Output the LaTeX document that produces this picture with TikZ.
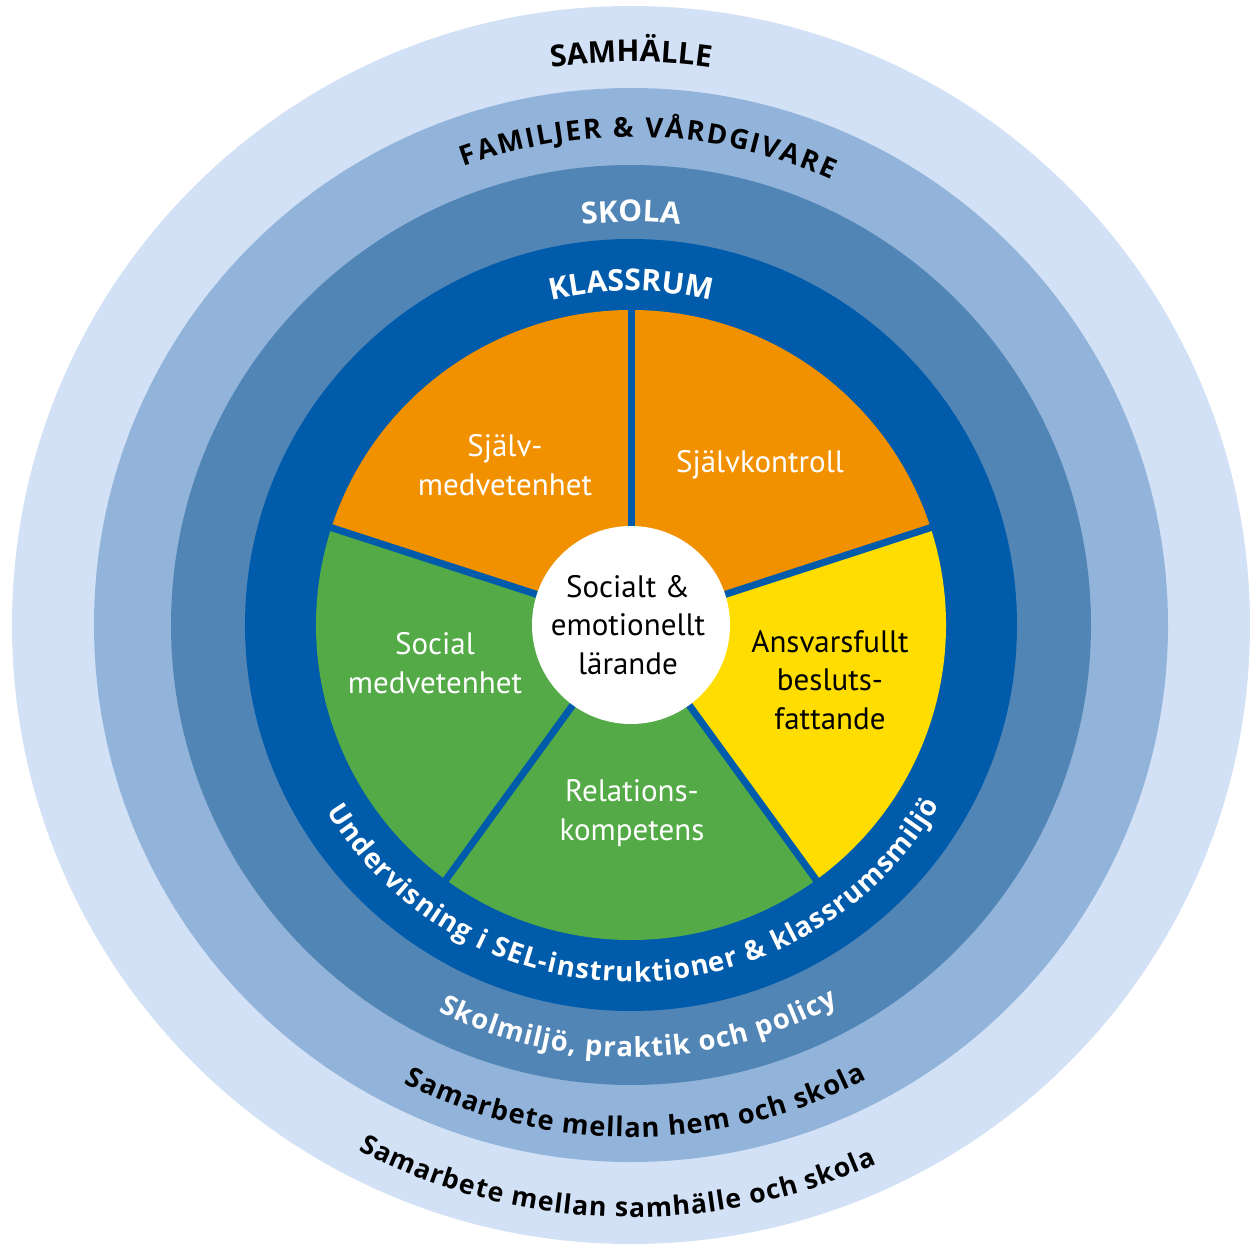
\documentclass[tikz,border=0pt]{standalone}
\usepackage{fontspec}
\setmainfont{PT Sans}
\newfontfamily\arcsans{Open Sans}
\usetikzlibrary{decorations.text}

\definecolor{ringA}{HTML}{D2E1F5}
\definecolor{ringB}{HTML}{93B4DA}
\definecolor{ringC}{HTML}{5185B5}
\definecolor{ringD}{HTML}{005BAB}
\definecolor{selOrange}{HTML}{F29100}
\definecolor{selYellow}{HTML}{FFDD00}
\definecolor{selGreen}{HTML}{53AA46}

% widen each character box a little (tracking for text set along a path)
\newcommand{\widetrack}[1]{#1\kern2pt}
\newcommand{\lighttrack}[1]{#1\kern1pt}

\newcommand{\capfont}{\arcsans\bfseries\fontsize{30}{30}\selectfont}
\newcommand{\famfont}{\arcsans\bfseries\fontsize{27.5}{27.5}\selectfont\widetrack}
\newcommand{\ringfont}{\arcsans\bfseries\fontsize{27.5}{27.5}\selectfont\lighttrack}
\newcommand{\homefont}{\arcsans\bfseries\fontsize{27.2}{27.2}\selectfont\lighttrack}
\newcommand{\outerfont}{\arcsans\bfseries\fontsize{26.6}{26.6}\selectfont\lighttrack}

\begin{document}
\begin{tikzpicture}[x=1pt,y=1pt,
  slice label/.style={align=center, font=\fontsize{31}{38.5}\selectfont, text=white, inner sep=0pt},
  sep line/.style={draw=ringD, line width=7pt},
  ring text/.style={decorate, decoration={text along path, text align=center, text color=#1}},
]
\useasboundingbox (-631,-618) rectangle (621,625);

% concentric rings
\fill[ringA] (0,0) circle[radius=619];
\fill[ringB] (0,0) circle[radius=537];
\fill[ringC] (0,0) circle[radius=460];
\fill[ringD] (0,0) circle[radius=386];

% the five competence slices
\fill[selOrange] (0,0) -- (90:315) arc[start angle=90, end angle=162, radius=315] -- cycle;
\fill[selOrange] (0,0) -- (18:315) arc[start angle=18, end angle=90, radius=315] -- cycle;
\fill[selYellow] (0,0) -- (-54:315) arc[start angle=-54, end angle=18, radius=315] -- cycle;
\fill[selGreen] (0,0) -- (234:315) arc[start angle=234, end angle=306, radius=315] -- cycle;
\fill[selGreen] (0,0) -- (162:315) arc[start angle=162, end angle=234, radius=315] -- cycle;
\foreach \a in {18,90,162,234,306}
  \draw[sep line] (0,0) -- (\a:317);

% core
\node[circle, fill=white, minimum size=198pt, inner sep=0pt] (core) at (0,0) {};
\node[slice label, text=black] (sel) at (-3,0) {Socialt \&\\emotionellt\\lärande};

% slice labels
\node[slice label] (selfaware) at (-126,160) {Själv-\\medvetenhet};
\node[slice label] (selfctrl) at (129,160) {Självkontroll};
\node[slice label] (socaware) at (-196,-38) {Social\\medvetenhet};
\node[slice label] (relskill) at (1,-188) {Relations-\\kompetens};
\node[slice label, text=black] (decide) at (199,-55) {Ansvarsfullt\\besluts-\\fattande};

% ring titles along the top
\path[ring text=black, decoration={text={|\capfont|SAMHÄLLE}}]
  (150:563) arc[start angle=150, end angle=30, radius=563];
\path[ring text=black, decoration={text={|\famfont|FAMILJER{\ }{\&}{\ }VÅRDGIVARE}}]
  (148:488) arc[start angle=148, end angle=28, radius=488];
\path[ring text=white, decoration={text={|\capfont|SKOLA}}]
  (150:403) arc[start angle=150, end angle=30, radius=403];
\path[ring text=white, decoration={text={|\capfont|KLASSRUM}}]
  (150:334) arc[start angle=150, end angle=30, radius=334];

% ring descriptions along the bottom
\path[ring text=white, decoration={text={|\ringfont|Undervisning{\ }i{\ }SEL-instruktioner{\ }{\&}{\ }klassrumsmiljö}}]
  (185:357) arc[start angle=185, end angle=356, radius=357];
\path[ring text=white, decoration={text={|\ringfont|Skolmiljö,{\ }praktik{\ }och{\ }policy}}]
  (201:432) arc[start angle=201, end angle=341, radius=432];
\path[ring text=black, decoration={text={|\homefont|Samarbete{\ }mellan{\ }hem{\ }och{\ }skola}}]
  (200:512) arc[start angle=200, end angle=341, radius=512];
\path[ring text=black, decoration={text={|\outerfont|Samarbete{\ }mellan{\ }samhälle{\ }och{\ }skola}}]
  (198:592) arc[start angle=198, end angle=339, radius=592];
\end{tikzpicture}
\end{document}
